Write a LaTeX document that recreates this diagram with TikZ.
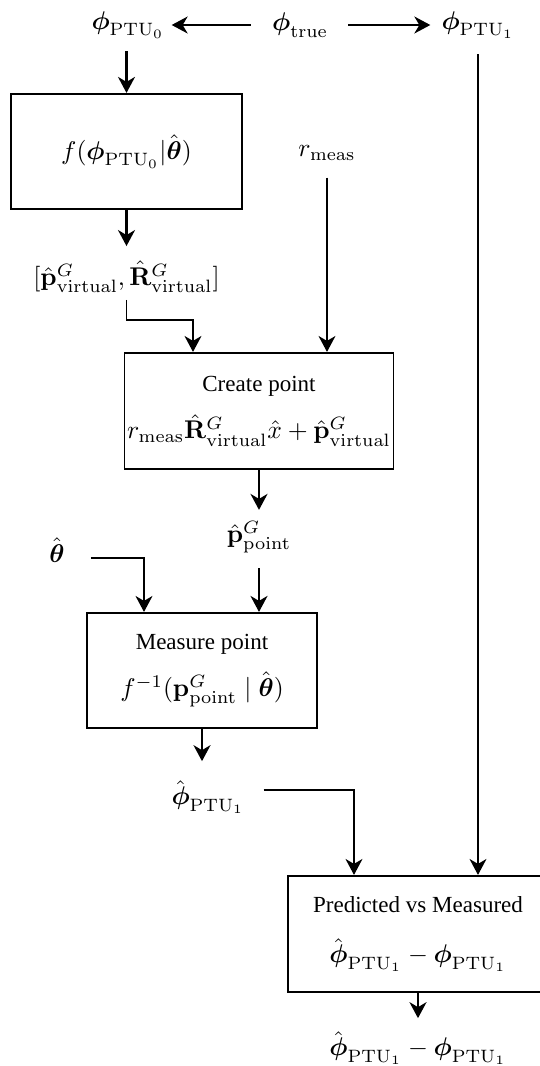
\documentclass[tikz,border=0pt]{standalone}
\usepackage{fix-cm}
\usepackage{amsmath}
\usepackage[no-math]{fontspec}
\setmainfont{Liberation Serif}
\usepackage{tikz}
\usetikzlibrary{arrows.meta}
\newcommand{\bphi}{\boldsymbol{\phi}}
\newcommand{\btheta}{\boldsymbol{\theta}}
\newcommand{\ptu}[1]{\mathrm{PTU}_{#1}}
\newcommand{\boxcaption}{\fontsize{9}{10.8}\selectfont}

\begin{document}
\begin{tikzpicture}[
  >={Stealth[length=8pt,width=8.5pt,inset=2.5pt]},
  mathlabel/.style={
    scale=1.28,
    transform shape,
    inner sep=2.6pt
  },
  blockbox/.style={
    draw,
    line width=0.85pt,
    align=center,
    scale=1.28,
    transform shape,
    inner sep=1pt
  },
  flowthick/.style={->, line width=1.1pt},
  flowthin/.style={->, line width=0.65pt}
]
  \useasboundingbox (0pt,0pt) rectangle (270pt,-533pt);

  % --- top row: joint angles ---
  \node[mathlabel] (phiA) at (64pt,-12.5pt) {$\bphi_{\ptu{0}}$};
  \node[mathlabel] (phiT) at (150pt,-12.5pt) {$\bphi_{\mathrm{true}}$};
  \node[mathlabel] (phiB) at (239pt,-12.5pt) {$\bphi_{\ptu{1}}$};

  % --- forward model ---
  \node[blockbox, minimum width=90.23pt, minimum height=44.92pt] (model) at (63.25pt,-75.75pt)
    {$f(\bphi_{\ptu{0}}|\hat{\btheta})$};
  \node[mathlabel] (pose) at (63.25pt,-138.5pt)
    {$[\hat{\mathbf{p}}^G_{\mathrm{virtual}},\hat{\mathbf{R}}^G_{\mathrm{virtual}}]$};
  \node[mathlabel] (rmeas) at (163.5pt,-76.5pt) {$r_{\mathrm{meas}}$};

  % --- create point ---
  \node[blockbox, minimum width=104.69pt, minimum height=45.31pt] (create) at (129.5pt,-205.5pt)
    {{\boxcaption Create point}\\[6.6pt]
     $r_{\mathrm{meas}}\hat{\mathbf{R}}^G_{\mathrm{virtual}}\hat{x}+\hat{\mathbf{p}}^G_{\mathrm{virtual}}$};
  \node[mathlabel] (ppoint) at (129.5pt,-268.5pt) {$\hat{\mathbf{p}}^G_{\mathrm{point}}$};
  \node[mathlabel] (thetahat) at (28.5pt,-275pt) {$\hat{\btheta}$};

  % --- measure point ---
  \node[blockbox, minimum width=89.84pt, minimum height=44.92pt] (measure) at (101pt,-335.25pt)
    {{\boxcaption Measure point}\\[6.5pt]
     $f^{-1}(\mathbf{p}^G_{\mathrm{point}}\mid\hat{\btheta})$};
  \node[mathlabel] (phihat) at (104pt,-398.5pt) {$\hat{\bphi}_{\ptu{1}}$};

  % --- comparison ---
  \node[blockbox, minimum width=101.56pt, minimum height=45.31pt] (compare) at (209pt,-467pt)
    {{\boxcaption Predicted vs Measured}\\[7.8pt]
     $\hat{\bphi}_{\ptu{1}}-\bphi_{\ptu{1}}$};
  \node[mathlabel] (result) at (209pt,-524pt) {$\hat{\bphi}_{\ptu{1}}-\bphi_{\ptu{1}}$};

  % arrows
  \draw[->, line width=0.85pt, shorten <=7pt] (phiT.west) -- (phiA.east);
  \draw[->, line width=0.85pt, shorten <=6.5pt, shorten >=2pt] (phiT.east) -- (phiB.west);
  \draw[flowthick, shorten <=3pt] (model.north |- phiA.south) -- (model.north);
  \draw[flowthick, shorten >=4pt] (model.south) -- (pose.north);
  \draw[flowthin] (pose.south) -- ++(0,-10pt) -| ([xshift=-33pt]create.north);
  \draw[flowthin, shorten <=5pt] (rmeas.south) -- (rmeas.south |- create.north);
  \draw[flowthick, shorten >=2pt] (create.south) -- (ppoint.north);
  \draw[flowthick, shorten <=4pt] (ppoint.south) -- (ppoint.south |- measure.north);
  \draw[flowthin] ([xshift=9.5pt,yshift=-4pt]thetahat.east) -| ([xshift=-29pt]measure.north);
  \draw[flowthick, shorten >=6pt] (measure.south) -- (measure.south |- phihat.north);
  \draw[flowthin] ([xshift=6pt,yshift=3.5pt]phihat.east) -| ([xshift=-32pt]compare.north);
  \draw[flowthin, shorten <=4.5pt] (phiB.south) -- (phiB.south |- compare.north);
  \draw[flowthick, shorten >=3pt] (compare.south) -- (result.north);

\end{tikzpicture}
\end{document}
